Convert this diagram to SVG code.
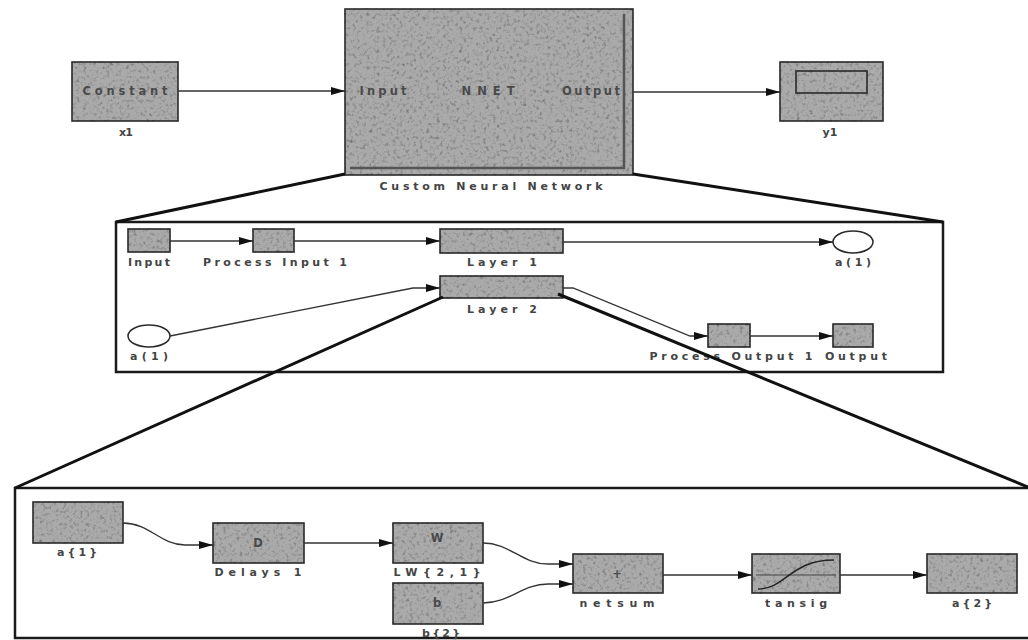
<svg xmlns="http://www.w3.org/2000/svg" width="1028" height="640" viewBox="0 0 1028 640">
<defs>
<filter id="grain" x="-5%" y="-5%" width="110%" height="110%" color-interpolation-filters="sRGB">
<feTurbulence type="fractalNoise" baseFrequency="0.3" numOctaves="4" seed="7" result="n"/>
<feColorMatrix in="n" type="matrix" values="0.4 0.4 0.4 0 0.4  0.4 0.4 0.4 0 0.4  0.4 0.4 0.4 0 0.4  0 0 0 0 1" result="g"/>
<feComposite in="g" in2="SourceAlpha" operator="in" result="gc"/>
<feBlend in="SourceGraphic" in2="gc" mode="multiply"/>
</filter>
<marker id="arr" viewBox="0 0 14 8" refX="14" refY="4" markerWidth="14" markerHeight="8" markerUnits="userSpaceOnUse" orient="auto">
<path d="M0,0 L14,4 L0,8 Z" fill="#111"/>
</marker>
<style>
.blk{fill:#aaaaaa;stroke:#2a2a2a;stroke-width:1.6;filter:url(#grain)}
.ell{fill:#fff;stroke:#2a2a2a;stroke-width:1.5}
.panel{fill:#fff;stroke:#1a1a1a;stroke-width:2.5}
.zoom{fill:none;stroke:#111;stroke-width:3}
.con{fill:none;stroke:#333;stroke-width:1.3;marker-end:url(#arr)}
.lbl{font-family:"DejaVu Sans","Liberation Sans",sans-serif;font-size:11px;font-weight:bold;fill:#444;text-anchor:middle}
.in{font-family:"DejaVu Sans","Liberation Sans",sans-serif;font-size:11.5px;font-weight:bold;fill:#4a4a4a;text-anchor:middle}
</style>
</defs>
<rect width="1028" height="640" fill="#fff"/>

<!-- panels -->
<rect class="panel" x="116" y="222" width="827" height="150"/>
<rect class="panel" x="15" y="488" width="1030" height="150"/>

<!-- top row -->
<g id="x1">
<rect class="blk" x="72" y="62" width="106" height="59"/>
<text class="in" x="125" y="95" textLength="85" lengthAdjust="spacing">Constant</text>
<text class="lbl" x="126" y="136" textLength="14" lengthAdjust="spacing">x1</text>
</g>
<g id="nnet">
<rect class="blk" x="345" y="9" width="288" height="166"/>
<path d="M350,168 H624 V14" fill="none" stroke="#555" stroke-width="2.5"/>
<text class="in" x="383" y="95" textLength="47" lengthAdjust="spacing">Input</text>
<text class="in" x="488" y="95" textLength="53" lengthAdjust="spacing">NNET</text>
<text class="in" x="591" y="95" textLength="58" lengthAdjust="spacing">Output</text>
<text class="lbl" x="491" y="190" textLength="223" lengthAdjust="spacing">Custom Neural Network</text>
</g>
<g id="y1">
<rect class="blk" x="780" y="62" width="103" height="59"/>
<rect x="796" y="71" width="71" height="22" fill="none" stroke="#2a2a2a" stroke-width="1.6"/>
<text class="lbl" x="830" y="136" textLength="15" lengthAdjust="spacing">y1</text>
</g>

<!-- middle panel nodes -->
<g id="mid-input">
<rect class="blk" x="128" y="229" width="42" height="23"/>
<text class="lbl" x="149" y="266" textLength="42" lengthAdjust="spacing">Input</text>
</g>
<g id="process-input-1">
<rect class="blk" x="253" y="229" width="41" height="23"/>
<text class="lbl" x="275" y="266" textLength="144" lengthAdjust="spacing">Process Input 1</text>
</g>
<g id="layer-1">
<rect class="blk" x="440" y="229" width="123" height="24"/>
<text class="lbl" x="502" y="266" textLength="70" lengthAdjust="spacing">Layer 1</text>
</g>
<g id="a1-out">
<ellipse class="ell" cx="853" cy="242" rx="20" ry="11"/>
<text class="lbl" x="853" y="266" textLength="36" lengthAdjust="spacing">a(1)</text>
</g>
<g id="layer-2">
<rect class="blk" x="440" y="276" width="123" height="22"/>
<text class="lbl" x="502" y="313" textLength="70" lengthAdjust="spacing">Layer 2</text>
</g>
<g id="a1-in">
<ellipse class="ell" cx="149" cy="336" rx="21" ry="11"/>
<text class="lbl" x="149" y="360" textLength="38" lengthAdjust="spacing">a(1)</text>
</g>
<g id="process-output-1">
<rect class="blk" x="708" y="324" width="42" height="23"/>
<text class="lbl" x="731" y="360" textLength="163" lengthAdjust="spacing">Process Output 1</text>
</g>
<g id="mid-output">
<rect class="blk" x="833" y="324" width="40" height="23"/>
<text class="lbl" x="856" y="360" textLength="62" lengthAdjust="spacing">Output</text>
</g>

<!-- bottom panel nodes -->
<g id="a1-layer">
<rect class="blk" x="33" y="502" width="90" height="41"/>
<text class="lbl" x="77" y="556" textLength="40" lengthAdjust="spacing">a{1}</text>
</g>
<g id="delays-1">
<rect class="blk" x="213" y="523" width="91" height="40"/>
<text class="in" x="258" y="547">D</text>
<text class="lbl" x="258" y="576" textLength="87" lengthAdjust="spacing">Delays 1</text>
</g>
<g id="lw21">
<rect class="blk" x="393" y="523" width="90" height="40"/>
<text class="in" x="437" y="542">W</text>
<text class="lbl" x="437" y="576" textLength="87" lengthAdjust="spacing">LW{2,1}</text>
</g>
<g id="b2">
<rect class="blk" x="393" y="583" width="90" height="41"/>
<text class="in" x="437" y="607">b</text>
<text class="lbl" x="441" y="637" textLength="38" lengthAdjust="spacing">b{2}</text>
</g>
<g id="netsum">
<rect class="blk" x="573" y="554" width="90" height="39"/>
<text class="in" x="617" y="578">+</text>
<text class="lbl" x="617" y="607" textLength="75" lengthAdjust="spacing">netsum</text>
</g>
<g id="tansig">
<rect class="blk" x="752" y="554" width="88" height="39"/>
<path d="M756,575 H836" fill="none" stroke="#444" stroke-width="1"/>
<path d="M758,589 C786,589 790,560 834,560" fill="none" stroke="#222" stroke-width="1.5"/>
<text class="lbl" x="796" y="607" textLength="62" lengthAdjust="spacing">tansig</text>
</g>
<g id="a2">
<rect class="blk" x="927" y="554" width="90" height="39"/>
<text class="lbl" x="972" y="607" textLength="40" lengthAdjust="spacing">a{2}</text>
</g>

<!-- connectors -->
<g id="connectors">
<path class="con" d="M178,91 H345"/>
<path class="con" d="M633,92 H780"/>
<path class="con" d="M170,241 H253"/>
<path class="con" d="M294,241 H440"/>
<path class="con" d="M563,242 H833"/>
<path class="con" d="M170,336 L413,288 H440"/>
<path class="con" d="M563,288 H573 L690,336 H708"/>
<path class="con" d="M750,336 H833"/>
<path class="con" d="M123,523 C150,523 160,545 185,545 H213"/>
<path class="con" d="M304,543 H393"/>
<path class="con" d="M483,543 C510,543 522,564 548,564 H573"/>
<path class="con" d="M483,603 C510,603 522,584 548,584 H573"/>
<path class="con" d="M663,575 H752"/>
<path class="con" d="M840,575 H927"/>
</g>

<!-- zoom lines -->
<g id="zoom-lines">
<path class="zoom" d="M345,174 L116,222"/>
<path class="zoom" d="M633,174 L943,222"/>
<path class="zoom" d="M443,297 L15,488"/>
<path class="zoom" d="M558,294 L1028,487"/>
</g>
</svg>
